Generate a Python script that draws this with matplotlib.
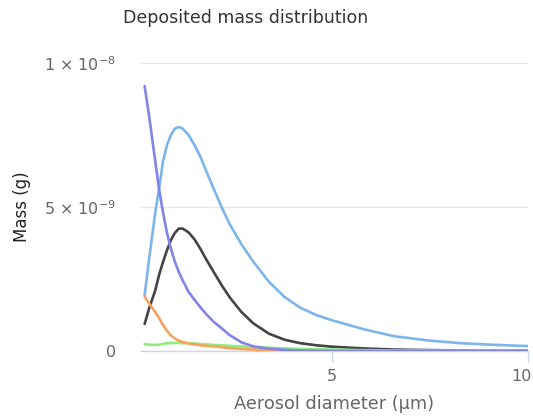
import matplotlib
matplotlib.use('Agg')
import matplotlib.pyplot as plt
import matplotlib.transforms as mtransforms
import numpy as np

# aerosol diameter (um)
diameter = [0.23, 0.35, 0.5, 0.6, 0.7, 0.8, 0.9, 1.0, 1.1, 1.2, 1.35, 1.5, 1.65, 1.8, 2.0,
            2.2, 2.4, 2.7, 3.0, 3.4, 3.8, 4.2, 4.6, 5.0, 5.8, 6.6, 7.5, 8.3, 9.2, 10.0]

# deposited mass, units of 1e-9 g
mass_blue = [1.94, 3.25, 4.8, 5.65, 6.6, 7.15, 7.5, 7.72, 7.78, 7.72, 7.5, 7.15, 6.75, 6.25, 5.6,
             4.97, 4.4, 3.7, 3.1, 2.4, 1.87, 1.5, 1.25, 1.07, 0.76, 0.51, 0.36, 0.27, 0.21, 0.17]
mass_black = [0.94, 1.5, 2.1, 2.65, 3.1, 3.5, 3.85, 4.1, 4.25, 4.25, 4.12, 3.88, 3.55, 3.18, 2.72,
              2.27, 1.86, 1.35, 0.96, 0.6, 0.39, 0.27, 0.2, 0.15, 0.09, 0.05, 0.03, 0.02, 0.01, 0.01]
mass_green = [0.24, 0.22, 0.21, 0.22, 0.25, 0.27, 0.28, 0.28, 0.28, 0.27, 0.27, 0.26, 0.24, 0.23, 0.21,
              0.2, 0.18, 0.16, 0.14, 0.11, 0.09, 0.07, 0.06, 0.05, 0.03, 0.02, 0.01, 0.01, 0.01, 0.0]
mass_orange = [1.89, 1.64, 1.35, 1.14, 0.9, 0.7, 0.54, 0.43, 0.36, 0.31, 0.26, 0.23, 0.2, 0.18, 0.16,
               0.13, 0.1, 0.07, 0.05, 0.03, 0.02, 0.01, 0.0, 0.0, 0.0, 0.0, 0.0, 0.0, 0.0, 0.0]
mass_purple = [9.2, 8.1, 6.6, 5.6, 4.8, 4.1, 3.55, 3.1, 2.75, 2.45, 2.05, 1.78, 1.52, 1.28, 1.0,
               0.78, 0.55, 0.3, 0.16, 0.08, 0.04, 0.02, 0.01, 0.0, 0.0, 0.0, 0.0, 0.0, 0.0, 0.0]

series = [(mass_blue, '#7cb5ec'), (mass_black, '#434348'), (mass_green, '#90ed7d'),
          (mass_orange, '#f7a35c'), (mass_purple, '#8085e9')]

fig = plt.figure(figsize=(5.33, 4.18), dpi=100)
ax = fig.add_axes([140.7/533, 1-351/418, (528-140.7)/533, (351-63)/418])

for vals, col in series:
    ax.plot(diameter, np.array(vals)*1e-9, color=col, lw=1.9,
            solid_joinstyle='round', solid_capstyle='round', zorder=3)

ax.set_xlim(0.13, 10)
ax.set_ylim(0, 1e-8)
ax.set_xticks([5, 10])
ax.set_xticklabels(['5', '10'])
ax.set_yticks([0, 5e-9, 1e-8])
ax.set_yticklabels(['0', '5 \u00d7 10$^{-9}$', '1 \u00d7 10$^{-8}$'])

ax.grid(axis='y', color='#e6e6e6', lw=1)
ax.set_axisbelow(True)
for s in ['top', 'right', 'left']:
    ax.spines[s].set_visible(False)
ax.spines['bottom'].set_color('#ccd6eb')
ax.spines['bottom'].set_linewidth(1)
ax.tick_params(axis='x', colors='#666666', length=8, width=1, color='#ccd6eb', labelsize=11.5, pad=5)
ax.tick_params(axis='y', colors='#666666', length=0, labelsize=11.5, pad=18)

# keep the last x label inside the figure, as the reference does
last = ax.get_xticklabels()[-1]
last.set_horizontalalignment('right')
last.set_transform(last.get_transform() + mtransforms.ScaledTranslation(4/100, 0, fig.dpi_scale_trans))

ax.set_xlabel('Aerosol diameter (\u00b5m)', color='#666666', fontsize=12.8, labelpad=8)
ax.set_ylabel('Mass (g)', color='#222222', fontsize=12, labelpad=9)
fig.text(245.5/533, 1-18/418, 'Deposited mass distribution', ha='center', va='center',
         fontsize=12.5, color='#333333')

fig.savefig('out.png', dpi=100)
